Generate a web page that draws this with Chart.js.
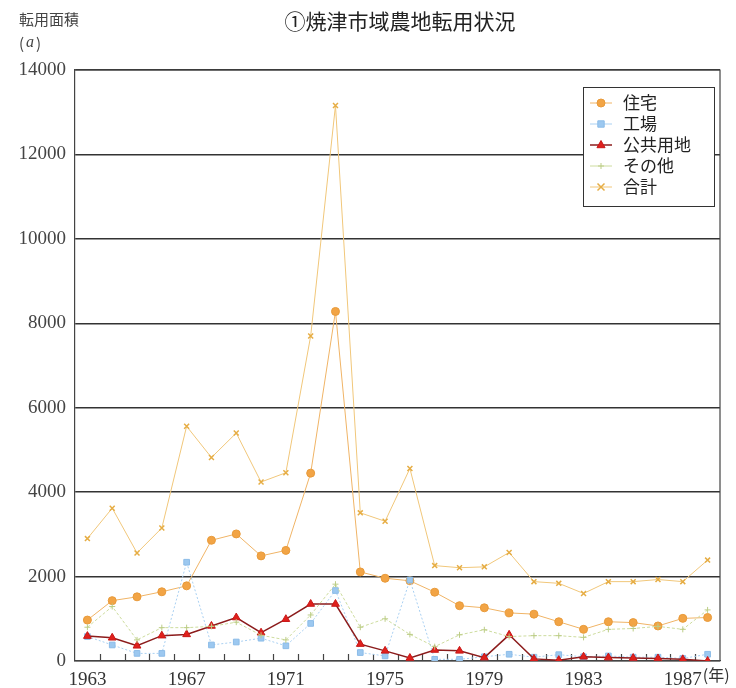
<!DOCTYPE html>
<html lang="ja">
<head>
<meta charset="UTF-8">
<title>焼津市域農地転用状況</title>
<script src="https://cdn.jsdelivr.net/npm/chart.js"></script>
<style>
  html, body { margin: 0; padding: 0; background: #fff; }
  #wrap { width: 736px; height: 688px; position: relative; }
</style>
</head>
<body>
<div id="wrap"><canvas id="landChart" width="736" height="688"></canvas></div>
<script>
// 1963〜1988 (a)
const years = [1963, 1964, 1965, 1966, 1967, 1968, 1969, 1970, 1971, 1972, 1973, 1974, 1975,
               1976, 1977, 1978, 1979, 1980, 1981, 1982, 1983, 1984, 1985, 1986, 1987, 1988];
const yearTicks = [1963, 1967, 1971, 1975, 1979, 1983, 1987];

const housing = [970, 1430, 1520, 1640, 1780, 2860, 3010, 2490, 2620, 4450, 8280, 2110, 1960,
                 1900, 1630, 1310, 1260, 1140, 1110, 930, 750, 930, 910, 830, 1010, 1030];
const factory = [580, 380, 180, 180, 2340, 380, 450, 540, 360, 890, 1670, 200, 120,
                 1920, 40, 40, 100, 160, 90, 150, 100, 120, 90, 90, 60, 160];
const publicUse = [590, 550, 360, 600, 630, 830, 1030, 670, 990, 1350, 1350, 400, 240,
                   70, 260, 240, 80, 620, 50, 20, 100, 80, 70, 60, 40, 0];
const other = [800, 1290, 500, 790, 790, 820, 920, 610, 500, 1090, 1820, 800, 1000,
               630, 340, 620, 740, 580, 600, 600, 560, 750, 770, 820, 750, 1210];
const total = [2900, 3620, 2560, 3150, 5560, 4820, 5400, 4240, 4460, 7700, 13160, 3510, 3310,
               4560, 2260, 2210, 2230, 2570, 1880, 1840, 1600, 1880, 1880, 1930, 1880, 2390];

const yTicks = [0, 2000, 4000, 6000, 8000, 10000, 12000, 14000];

const series = [
  { label: '住宅', data: housing, line: '#f0b466', fill: '#f2a445', edge: '#e89a3a', style: 'circle', r: 4, w: 1 },
  { label: '工場', data: factory, line: '#a9d0f2', fill: '#9cc8f0', edge: '#8cbce8', style: 'rect', r: 4, w: 1, dash: [2, 2] },
  { label: '公共用地', data: publicUse, line: '#8c1c1c', fill: '#e0201c', edge: '#c81818', style: 'triangle', r: 4.5, w: 1.5 },
  { label: 'その他', data: other, line: '#cddc9e', fill: '#cddc9e', edge: '#bccd86', style: 'cross', r: 3, w: 1, dash: [3, 2] },
  { label: '合計', data: total, line: '#f1c77a', fill: '#eebc5c', edge: '#e6ad44', style: 'crossRot', r: 3.5, w: 1 }
];

const serif = '"Liberation Serif", "DejaVu Serif", serif';
const jp = '"Noto Sans CJK JP", sans-serif';

function marker(ctx, s, x, y) {
  const r = s.r;
  ctx.save();
  ctx.fillStyle = s.fill;
  ctx.strokeStyle = s.edge;
  ctx.lineWidth = 1;
  ctx.setLineDash([]);
  ctx.beginPath();
  if (s.style === 'circle') {
    ctx.arc(x, y, r, 0, Math.PI * 2);
    ctx.fill(); ctx.stroke();
  } else if (s.style === 'rect') {
    ctx.rect(x - r * 0.8, y - r * 0.8, r * 1.6, r * 1.6);
    ctx.fill(); ctx.stroke();
  } else if (s.style === 'triangle') {
    ctx.moveTo(x, y - r);
    ctx.lineTo(x + r * 0.9, y + r * 0.6);
    ctx.lineTo(x - r * 0.9, y + r * 0.6);
    ctx.closePath();
    ctx.fill(); ctx.stroke();
  } else if (s.style === 'cross') {
    ctx.moveTo(x - r, y); ctx.lineTo(x + r, y);
    ctx.moveTo(x, y - r); ctx.lineTo(x, y + r);
    ctx.stroke();
  } else {
    ctx.lineWidth = 1.5;
    ctx.moveTo(x - r, y - r); ctx.lineTo(x + r, y + r);
    ctx.moveTo(x + r, y - r); ctx.lineTo(x - r, y + r);
    ctx.stroke();
  }
  ctx.restore();
}

// titles, inner ticks, "(年)" and the boxed legend
const decor = {
  id: 'decor',
  beforeDatasetsDraw(chart) {
    const ctx = chart.ctx, a = chart.chartArea, x = chart.scales.x;
    const step = x.getPixelForValue(1) - x.getPixelForValue(0);
    ctx.save();
    ctx.strokeStyle = '#444';
    ctx.lineWidth = 1.2;
    for (let i = 1; i < years.length; i++) {
      const px = Math.round(x.getPixelForValue(i) - step / 2) + 0.5;
      ctx.beginPath();
      ctx.moveTo(px, a.bottom);
      ctx.lineTo(px, a.bottom - 7);
      ctx.stroke();
    }
    ctx.restore();
  },
  afterDraw(chart) {
    const ctx = chart.ctx, a = chart.chartArea, x = chart.scales.x;
    ctx.save();
    ctx.fillStyle = '#222';
    ctx.textBaseline = 'middle';
    ctx.textAlign = 'center';
    ctx.font = '21px ' + jp;
    ctx.fillText('①焼津市域農地転用状況', 400, 21);

    ctx.textAlign = 'left';
    ctx.fillStyle = '#444';
    ctx.font = '15px ' + jp;
    ctx.fillText('転用面積', 19, 19);
    ctx.fillText('(', 19, 43);
    ctx.fillText(')', 36, 43);
    ctx.font = 'italic 16px ' + serif;
    ctx.fillText('a', 26, 43);

    // "(年)" after the last year label
    ctx.font = '19px ' + serif;
    const lastX = x.getPixelForValue(years.indexOf(1987));
    const w = ctx.measureText('1987').width;
    ctx.font = '16px ' + jp;
    ctx.fillStyle = '#333';
    ctx.fillText('(年)', lastX + w / 2 + 1, 675);

    // legend box
    const bx = 583, by = 87, bw = 131, bh = 119;
    ctx.fillStyle = '#fff';
    ctx.fillRect(bx, by, bw, bh);
    ctx.strokeStyle = '#333';
    ctx.lineWidth = 1;
    ctx.strokeRect(bx + 0.5, by + 0.5, bw, bh);
    ctx.font = '17px ' + jp;
    series.forEach((s, i) => {
      const y = by + 16 + i * 21;
      ctx.strokeStyle = s.line;
      ctx.lineWidth = s.w;
      ctx.beginPath();
      ctx.moveTo(590, y);
      ctx.lineTo(612, y);
      ctx.stroke();
      marker(ctx, s, 601, y);
      ctx.fillStyle = '#222';
      ctx.fillText(s.label, 623, y);
    });
    ctx.restore();
  }
};

const ctx = document.getElementById('landChart').getContext('2d');
new Chart(ctx, {
  type: 'line',
  data: {
    labels: years,
    datasets: series.map(s => ({
      label: s.label,
      data: s.data,
      borderColor: s.line,
      borderWidth: s.w,
      borderDash: s.dash || [],
      backgroundColor: s.fill,
      pointStyle: s.style,
      pointRadius: s.r,
      pointBackgroundColor: s.fill,
      pointBorderColor: s.edge,
      pointBorderWidth: s.style === 'crossRot' ? 1.5 : 1,
      tension: 0,
      fill: false
    })).reverse()
  },
  options: {
    responsive: false,
    animation: false,
    layout: { padding: { top: 70, right: 16, left: 0, bottom: 0 } },
    plugins: {
      legend: { display: false },
      title: { display: false },
      tooltip: { enabled: false }
    },
    scales: {
      x: {
        offset: true,
        grid: { display: false },
        border: { display: true, color: '#444', width: 1.2 },
        afterFit(scale) { scale.height = 27; },
        ticks: {
          autoSkip: false,
          maxRotation: 0,
          padding: 0,
          color: '#333',
          font: { family: serif, size: 19 },
          callback(v, i) {
            return yearTicks.includes(years[i]) ? String(years[i]) : '';
          }
        }
      },
      y: {
        min: 0,
        max: 14000,
        afterFit(scale) { scale.width = 75; },
        afterBuildTicks(scale) { scale.ticks = yTicks.map(v => ({ value: v })); },
        grid: { color: '#333', lineWidth: 1.5, drawTicks: false },
        border: { display: true, color: '#444', width: 1.2 },
        ticks: {
          padding: 9,
          color: '#444',
          font: { family: serif, size: 19 },
          callback(v) { return String(v); }
        }
      }
    }
  },
  plugins: [decor, {
    id: 'frame',
    afterDatasetsDraw(chart) {
      const c = chart.ctx, a = chart.chartArea;
      c.save();
      c.strokeStyle = '#444';
      c.lineWidth = 1.2;
      c.beginPath();
      c.moveTo(a.left, a.top);
      c.lineTo(a.right, a.top);
      c.lineTo(a.right, a.bottom);
      c.stroke();
      c.restore();
    }
  }]
});
</script>
</body>
</html>
